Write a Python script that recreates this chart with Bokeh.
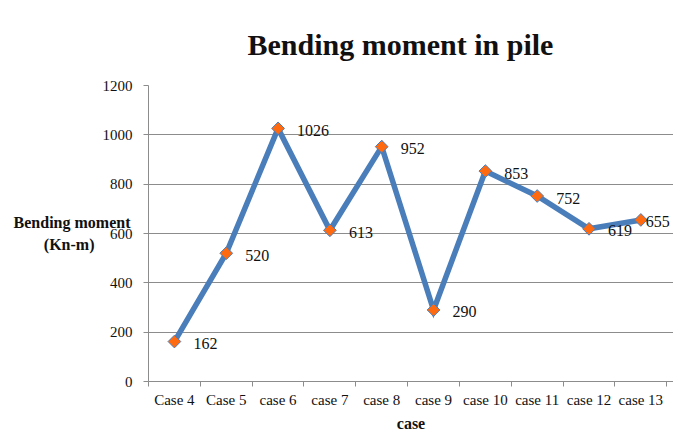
import math
from bokeh.plotting import figure
from bokeh.models import Range1d, FixedTicker, ColumnDataSource, LabelSet
from bokeh.embed import file_html
from bokeh.resources import INLINE

categories = ["Case 4", "Case 5", "case 6", "case 7", "case 8", "case 9",
              "case 10", "case 11", "case 12", "case 13"]
moments = [162, 520, 1026, 613, 952, 290, 853, 752, 619, 655]
y_ticks = [0, 200, 400, 600, 800, 1000, 1200]
title_text = "Bending moment in pile"
y_title_lines = ["Bending moment", "(Kn-m)"]
x_title = "case"

FONT = "Liberation Serif"
BLUE = "#4A7EBB"
ORANGE = "#FF6A10"
GRID = "#8C8C8C"
TXT = "#111111"

# label horizontal offsets (layout, px)
label_dx = [19, 19, 19, 19, 19, 19, 19, 19, 19, 5]

n = len(categories)
xs = [i + 0.5 for i in range(n)]
src = ColumnDataSource(dict(x=xs, y=moments, t=[str(v) for v in moments], dx=label_dx))

# a little room right of the last category so the last value label is not clipped
p = figure(width=673, height=444, output_backend="svg", toolbar_location=None,
           x_range=Range1d(0, n + 0.13), y_range=Range1d(0, 1200),
           min_border_left=148, min_border_right=0, min_border_top=85,
           min_border_bottom=63)
p.outline_line_color = None
p.background_fill_color = "white"
p.border_fill_color = "white"

# title
p.title.text = title_text
p.title.align = "left"
p.title.offset = 99
p.title.standoff = 49
p.title.text_font = FONT
p.title.text_font_style = "bold"
p.title.text_font_size = "30px"
p.title.text_color = TXT

# grid
p.xgrid.visible = False
p.ygrid.grid_line_color = GRID
p.ygrid.grid_line_width = 1
p.ygrid.ticker = FixedTicker(ticks=y_ticks)

# y axis
p.yaxis.ticker = FixedTicker(ticks=y_ticks, minor_ticks=[])
p.yaxis.axis_line_color = GRID
p.yaxis.major_tick_line_color = GRID
p.yaxis.major_tick_out = 5
p.yaxis.major_tick_in = 0
p.yaxis.minor_tick_line_color = None
p.yaxis.major_label_text_font = FONT
p.yaxis.major_label_text_font_size = "15px"
p.yaxis.major_label_text_color = TXT
p.yaxis.major_label_standoff = 11
# second line padded with no-break spaces so it sits centred under the first
p.yaxis.axis_label = y_title_lines[0] + "\n" + y_title_lines[1] + "\u00a0" * 9
p.yaxis.axis_label_orientation = "horizontal"
p.yaxis.axis_label_text_font = FONT
p.yaxis.axis_label_text_font_style = "bold"
p.yaxis.axis_label_text_font_size = "16px"
p.yaxis.axis_label_text_color = TXT
p.yaxis.axis_label_text_align = "center"
p.yaxis.axis_label_text_line_height = 1.25
p.yaxis.axis_label_standoff = -31

# x axis
p.xaxis.ticker = FixedTicker(ticks=xs, minor_ticks=list(range(n + 1)))
p.xaxis.major_label_overrides = {x: c for x, c in zip(xs, categories)}
p.xaxis.axis_line_color = GRID
p.xaxis.major_tick_line_color = None
p.xaxis.minor_tick_line_color = GRID
p.xaxis.minor_tick_out = 5
p.xaxis.minor_tick_in = 0
p.xaxis.major_label_text_font = FONT
p.xaxis.major_label_text_font_size = "15px"
p.xaxis.major_label_text_color = TXT
p.xaxis.major_label_standoff = 4
p.xaxis.axis_label = x_title
p.xaxis.axis_label_text_font = FONT
p.xaxis.axis_label_text_font_style = "bold"
p.xaxis.axis_label_text_font_size = "16px"
p.xaxis.axis_label_text_color = TXT
p.xaxis.axis_label_standoff = 4

# series
p.line("x", "y", source=src, line_color=BLUE, line_width=5.5, line_join="miter")
p.scatter("x", "y", source=src, marker="square", size=9, angle=math.pi / 4,
          fill_color=ORANGE, line_color=BLUE, line_width=1)

p.add_layout(LabelSet(x="x", y="y", text="t", source=src, x_offset="dx", y_offset=-2,
                      text_font=FONT, text_font_size="16px", text_color=TXT,
                      text_align="left", text_baseline="middle"))

open("out.html", "w").write(file_html(p, INLINE))
